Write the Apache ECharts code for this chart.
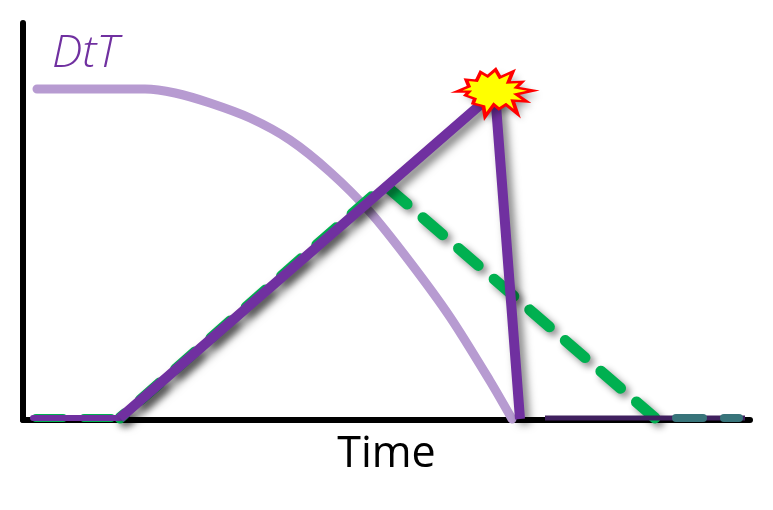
<!DOCTYPE html>
<html>
<head>
<meta charset="utf-8">
<style>
  html, body { margin: 0; padding: 0; background: #fff; }
  #chart { width: 773px; height: 510px; }
</style>
<script src="https://cdn.jsdelivr.net/npm/echarts@6/dist/echarts.min.js"></script>
</head>
<body>
<div id="chart"></div>
<script>
// values
const dtt = [[14, 331], [122, 331], [152, 327], [187, 317], [227, 302], [267, 280], [307, 248], [347, 208], [387, 158], [427, 103], [467, 39], [489, 1]];
const tempHead = [[13, 2], [97, 2]];
const tempMain = [[97, 2], [362, 235], [632, 2]];
const tempTail = [[632, 2], [716, 2]];
const powerHead = [[10, 2], [97, 2]];
const powerMain = [[97, 2], [472, 328], [497, 1]];
const powerTail = [[522, 2], [722, 2]];
const burst = [[472, 327]];

const burstPath = 'path://M82 127L118 112L110 92L140 95L152 70L172 82L195 62L208 85L245 68L232 100L272 98L255 115L305 124L255 135L285 156L245 153L258 192L225 165L205 178L190 165L165 200L160 170L130 162L135 148L108 138L118 127Z';

const chart = echarts.init(document.getElementById('chart'));

const option = {
  animation: false,
  title: {
    text: 'DtT',
    left: 47,
    top: 27,
    textStyle: {
      color: '#7030A0',
      fontFamily: 'Open Sans',
      fontStyle: 'italic',
      fontWeight: 300,
      fontSize: 45
    }
  },
  grid: { left: 23, top: 23, width: 727, height: 397 },
  xAxis: {
    type: 'value',
    min: 0,
    max: 727,
    name: 'Time',
    nameLocation: 'middle',
    nameGap: 13,
    nameTextStyle: { color: '#000', fontFamily: 'Open Sans', fontSize: 43 },
    axisLine: { lineStyle: { color: '#000', width: 6 } },
    axisTick: { show: false },
    axisLabel: { show: false },
    splitLine: { show: false }
  },
  yAxis: {
    type: 'value',
    min: 0,
    max: 397,
    axisLine: { show: true, lineStyle: { color: '#000', width: 6 } },
    axisTick: { show: false },
    axisLabel: { show: false },
    splitLine: { show: false }
  },
  series: [
    {
      type: 'line',
      data: dtt,
      symbol: 'none',
      clip: false,
      z: 3,
      smooth: 0.3,
      lineStyle: { color: '#B79BD1', width: 9, cap: 'round' }
    },
    {
      type: 'line',
      data: tempHead,
      symbol: 'none',
      clip: false,
      z: 4,
      lineStyle: { color: '#00B050', width: 8, cap: 'round', type: [27, 21] }
    },
    {
      type: 'line',
      data: tempMain,
      symbol: 'none',
      clip: false,
      z: 4,
      lineStyle: {
        color: '#00B050',
        width: 11,
        cap: 'round',
        join: 'round',
        type: [26, 21],
        dashOffset: 20,
        shadowColor: 'rgba(0,0,0,0.45)',
        shadowBlur: 7,
        shadowOffsetX: 4,
        shadowOffsetY: 4
      }
    },
    {
      type: 'line',
      data: powerTail,
      symbol: 'none',
      clip: false,
      z: 4,
      lineStyle: { color: '#40205F', width: 5 }
    },
    {
      type: 'line',
      data: tempTail,
      symbol: 'none',
      clip: false,
      z: 5,
      lineStyle: {
        color: '#38747A',
        width: 8,
        cap: 'round',
        type: [27, 21],
        dashOffset: 27
      }
    },
    {
      type: 'line',
      data: powerHead,
      symbol: 'none',
      clip: false,
      z: 6,
      lineStyle: { color: '#7030A0', width: 6, cap: 'round' }
    },
    {
      type: 'line',
      data: powerMain,
      symbol: 'none',
      clip: false,
      z: 6,
      lineStyle: {
        color: '#7030A0',
        width: 10,
        join: 'miter',
        shadowColor: 'rgba(0,0,0,0.5)',
        shadowBlur: 8,
        shadowOffsetX: 5,
        shadowOffsetY: 5
      }
    },
    {
      // shadow layer only, so the shadow does not fall on the fill
      type: 'scatter',
      data: burst,
      symbol: burstPath,
      symbolSize: [77, 47],
      clip: false,
      z: 7,
      itemStyle: {
        color: '#FF0000',
        opacity: 1,
        shadowColor: 'rgba(0,0,0,0.4)',
        shadowBlur: 7,
        shadowOffsetX: 5,
        shadowOffsetY: 5
      }
    },
    {
      type: 'scatter',
      data: burst,
      symbol: burstPath,
      symbolSize: [77, 47],
      clip: false,
      z: 8,
      itemStyle: {
        color: '#FFFF00',
        opacity: 1,
        borderColor: '#FF0000',
        borderWidth: 3
      }
    }
  ]
};

chart.setOption(option);
</script>
</body>
</html>
